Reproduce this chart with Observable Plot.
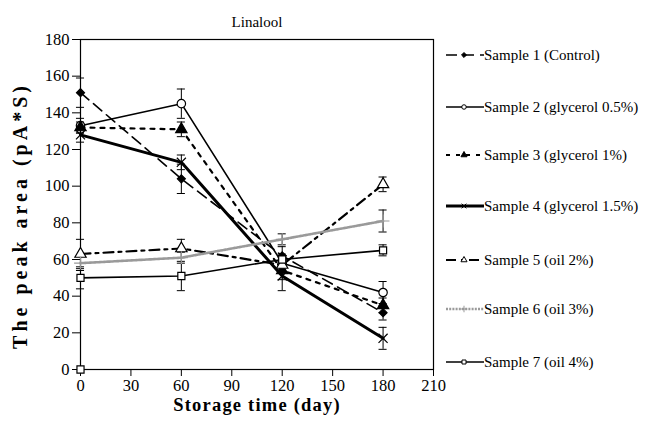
<!DOCTYPE html>
<html>
<head>
<meta charset="utf-8">
<script src="https://cdn.jsdelivr.net/npm/d3@7"></script>
<script src="https://cdn.jsdelivr.net/npm/@observablehq/plot@0.6"></script>
<style>
  body { margin: 0; background: #fff; }
  #wrap { position: relative; width: 651px; height: 421px; }
  #legend { position: absolute; left: 442px; top: 0; width: 209px; height: 421px; }
  .item { position: absolute; left: 0; display: flex; align-items: center; font-size: 15px; color: #000; white-space: nowrap; font-family: "Liberation Serif", "Times New Roman", serif; }
  .item svg { display: block; margin-right: 0px; }
</style>
</head>
<body>
<div id="wrap"><div id="legend"></div></div>
<script>
const title = "Linalool";
const xLabel = "Storage time (day)";
const yLabel = "The peak area (pA*S)";
const days = [0, 60, 120, 180];
const xTicks = [0, 30, 60, 90, 120, 150, 180, 210];
const yTicks = [0, 20, 40, 60, 80, 100, 120, 140, 160, 180];
const names = [
  "Sample 1 (Control)",
  "Sample 2 (glycerol 0.5%)",
  "Sample 3 (glycerol 1%)",
  "Sample 4 (glycerol 1.5%)",
  "Sample 5 (oil 2%)",
  "Sample 6 (oil 3%)",
  "Sample 7 (oil 4%)"
];
const s1 = [151, 104, 62, 31];
const s2 = [133, 145, 58, 42];
const s3 = [132, 131, 54, 35];
const s4 = [128, 113, 51, 17];
const s5 = [63, 66, 57, 101];
const s6 = [58, 61, 71, 81];
const s7 = [50, 51, 60, 65];
const e1 = [8, 8, 5, 4];
const e2 = [4, 8, 4, 6];
const e3 = [3, 4, 5, 4];
const e4 = [4, 4, 8, 6];
const e5 = [8, 5, 4, 4];
const e6 = [4, 3, 3, 6];
const e7 = [6, 8, 3, 3];
const strayX = [0];
const strayY = [0];

const values = [s1, s2, s3, s4, s5, s6, s7];
const errs = [e1, e2, e3, e4, e5, e6, e7];
const FONT = "'Liberation Serif', 'Times New Roman', serif";

const styles = [
  {stroke: "#000", sw: 1.6, dash: "11,6", symbol: "diamond2", fill: "#000", r: 3.6, mstroke: "#000"},
  {stroke: "#000", sw: 1.6, dash: null, symbol: "circle", fill: "#fff", r: 4.2, mstroke: "#000"},
  {stroke: "#000", sw: 2.2, dash: "4,6", symbol: "triangle", fill: "#000", r: 4.2, mstroke: "#000"},
  {stroke: "#000", sw: 3, dash: null, symbol: "times", fill: "none", r: 4.2, mstroke: "#000"},
  {stroke: "#000", sw: 2.2, dash: "10,5,3,5", symbol: "triangle", fill: "#fff", r: 4.2, mstroke: "#000"},
  {stroke: "#9a9a9a", sw: 2.6, dash: "2,1.2", symbol: "plus", fill: "none", r: 4.2, mstroke: "#999"},
  {stroke: "#000", sw: 1.6, dash: null, symbol: "square", fill: "#fff", r: 4, mstroke: "#000"}
];

const rows = [];
values.forEach((arr, si) => arr.forEach((v, i) => rows.push({s: si, x: days[i], y: v, e: errs[si][i]})));

const marks = [
  Plot.frame({stroke: "#000", strokeWidth: 1.2}),
  Plot.axisX({ticks: xTicks, tickSize: 7, tickPadding: 3, fontSize: 16.5, label: null}),
  Plot.axisY({ticks: yTicks, tickSize: 8, tickPadding: 3, fontSize: 16.5, label: null}),
  Plot.text([title], {frameAnchor: "top", dy: -23, fontSize: 15, text: d => d, fill: "#000"}),
  Plot.text([xLabel], {frameAnchor: "bottom", dy: 41, fontSize: 18.5, fontWeight: "bold", text: d => d, fill: "#000"}),
  Plot.text([yLabel], {frameAnchor: "left", textAnchor: "middle", dx: -60, dy: 11, rotate: -90, fontSize: 20, fontWeight: "bold", text: d => d, fill: "#000"}),
  Plot.ruleX(rows, {x: "x", y1: d => d.y - d.e, y2: d => d.y + d.e, stroke: "#000", strokeWidth: 1}),
  Plot.ruleY(rows, {y: d => d.y + d.e, x1: d => d.x - 2.4, x2: d => d.x + 2.4, stroke: "#000", strokeWidth: 1}),
  Plot.ruleY(rows, {y: d => d.y - d.e, x1: d => d.x - 2.4, x2: d => d.x + 2.4, stroke: "#000", strokeWidth: 1})
];
values.forEach((arr, si) => {
  const st = styles[si];
  const data = arr.map((v, i) => ({x: days[i], y: v}));
  marks.push(Plot.line(data, {x: "x", y: "y", stroke: st.stroke, strokeWidth: st.sw, strokeDasharray: st.dash}));
});
values.forEach((arr, si) => {
  const st = styles[si];
  const data = arr.map((v, i) => ({x: days[i], y: v}));
  marks.push(Plot.dot(data, {x: "x", y: "y", symbol: () => st.symbol, r: st.r, fill: st.fill, stroke: st.mstroke, strokeWidth: 1.2}));
});
marks.push(Plot.dot(strayX.map((x, i) => ({x, y: strayY[i]})), {x: "x", y: "y", symbol: "square", r: 4, fill: "#fff", stroke: "#000", strokeWidth: 1.2}));

const chart = Plot.plot({
  width: 651,
  height: 421,
  marginLeft: 80,
  marginRight: 218,
  marginTop: 39,
  marginBottom: 52,
  style: {fontFamily: FONT, color: "#000", background: "#fff", overflow: "visible"},
  x: {domain: [0, 210]},
  y: {domain: [0, 180]},
  marks
});
d3.select(chart).selectAll("text").filter(function () { return this.textContent === yLabel; }).attr("letter-spacing", "4px");
d3.select(chart).selectAll("text").filter(function () { return this.textContent === xLabel; }).attr("letter-spacing", "1.2px");
document.getElementById("wrap").insertBefore(chart, document.getElementById("legend"));
chart.style.position = "absolute";
chart.style.left = "0";
chart.style.top = "0";

// Legend
const legendY = [55, 107, 155, 206, 260, 309, 362];
const legend = d3.select("#legend");
const symMap = {diamond2: d3.symbolDiamond2, circle: d3.symbolCircle, triangle: d3.symbolTriangle, times: d3.symbolTimes, plus: d3.symbolPlus, square: d3.symbolSquare};
names.forEach((name, si) => {
  const st = styles[si];
  const item = legend.append("div").attr("class", "item").style("top", (legendY[si] - 10) + "px");
  const svg = item.append("svg").attr("width", 42).attr("height", 20);
  svg.append("line").attr("x1", 4).attr("x2", 42).attr("y1", 10).attr("y2", 10)
    .attr("stroke", st.stroke).attr("stroke-width", st.sw)
    .attr("stroke-dasharray", st.dash);
  svg.append("path").attr("transform", "translate(22,10)")
    .attr("d", d3.symbol(symMap[st.symbol], 16)())
    .attr("fill", st.fill).attr("stroke", st.mstroke).attr("stroke-width", 1);
  item.append("span").text(name);
});
</script>
</body>
</html>
